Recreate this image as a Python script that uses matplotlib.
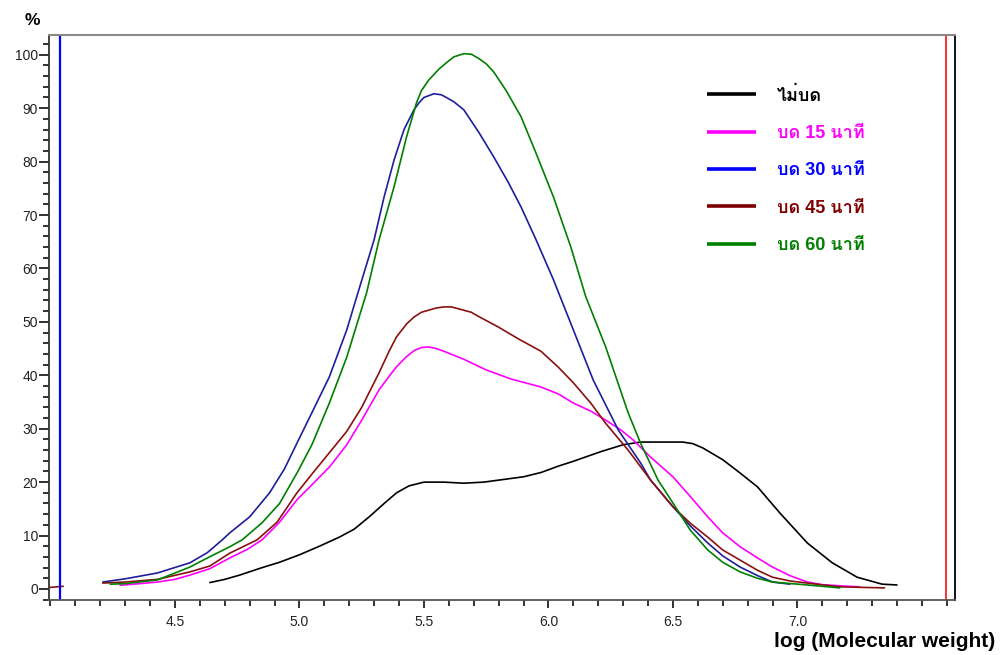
import matplotlib
matplotlib.use("Agg")
import matplotlib.pyplot as plt
from matplotlib.lines import Line2D
from matplotlib.ticker import MultipleLocator, FixedLocator

# ---------------- data ----------------
x_black = [4.64, 4.70, 4.76, 4.85, 4.92, 5.00, 5.08, 5.16, 5.22, 5.28, 5.34, 5.39, 5.44, 5.50,
           5.58, 5.66, 5.74, 5.82, 5.90, 5.97, 6.04, 6.10, 6.21, 6.30, 6.37, 6.45, 6.54, 6.58,
           6.62, 6.70, 6.77, 6.84, 6.93, 7.04, 7.14, 7.24, 7.34, 7.40]
y_black = [1.2, 1.8, 2.6, 4.0, 5.0, 6.4, 8.0, 9.7, 11.2, 13.5, 16.0, 18.0, 19.3, 20.0,
           20.0, 19.8, 20.0, 20.5, 21.0, 21.8, 23.0, 23.9, 25.7, 27.0, 27.5, 27.5, 27.5, 27.2,
           26.4, 24.2, 21.7, 19.1, 14.2, 8.6, 4.9, 2.2, 0.9, 0.75]

x_15 = [4.28, 4.36, 4.43, 4.50, 4.56, 4.64, 4.72, 4.79, 4.85, 4.92, 4.99, 5.05, 5.12, 5.19,
        5.25, 5.32, 5.36, 5.39, 5.43, 5.46, 5.49, 5.52, 5.55, 5.58, 5.66, 5.75, 5.85, 5.97,
        6.04, 6.10, 6.17, 6.23, 6.29, 6.34, 6.41, 6.50, 6.57, 6.64, 6.70, 6.77, 6.84, 6.90,
        6.97, 7.04, 7.10, 7.17, 7.25]
y_15 = [0.7, 1.0, 1.3, 1.8, 2.6, 3.8, 5.8, 7.4, 9.2, 12.5, 16.7, 19.5, 22.8, 27.0,
        31.6, 37.3, 39.8, 41.6, 43.5, 44.6, 45.2, 45.3, 45.0, 44.5, 43.0, 41.0, 39.3, 37.8,
        36.5, 34.8, 33.3, 31.6, 29.8, 27.9, 24.7, 21.0, 17.3, 13.5, 10.5, 7.9, 5.8, 4.1,
        2.5, 1.3, 0.8, 0.6, 0.4]

x_30 = [4.21, 4.30, 4.43, 4.56, 4.63, 4.69, 4.72, 4.80, 4.88, 4.94, 4.99, 5.05, 5.12, 5.19,
        5.23, 5.30, 5.34, 5.38, 5.42, 5.46, 5.48, 5.50, 5.54, 5.57, 5.59, 5.62, 5.66, 5.72,
        5.78, 5.84, 5.89, 5.95, 6.02, 6.10, 6.18, 6.28, 6.37, 6.41, 6.50, 6.57, 6.64, 6.70,
        6.77, 6.84, 6.90, 6.97]
y_30 = [1.3, 1.9, 3.0, 4.9, 6.8, 9.2, 10.5, 13.5, 18.0, 22.5, 27.3, 33.0, 39.7, 48.5,
        54.7, 65.4, 73.4, 80.3, 86.0, 89.7, 91.0, 92.0, 92.7, 92.5, 92.0, 91.2, 89.7, 85.5,
        80.9, 76.0, 71.5, 65.4, 57.9, 48.5, 39.1, 29.8, 23.6, 20.4, 15.4, 11.8, 8.6, 6.2,
        4.1, 2.5, 1.3, 0.9]

x_45 = [4.21, 4.30, 4.43, 4.56, 4.64, 4.72, 4.83, 4.91, 4.99, 5.05, 5.12, 5.19, 5.25, 5.32,
        5.36, 5.39, 5.43, 5.46, 5.49, 5.52, 5.55, 5.58, 5.61, 5.65, 5.69, 5.72, 5.80, 5.88,
        5.97, 6.04, 6.10, 6.17, 6.23, 6.32, 6.41, 6.50, 6.57, 6.64, 6.70, 6.77, 6.84, 6.90,
        6.97, 7.04, 7.17, 7.35]
y_45 = [1.1, 1.3, 1.8, 3.2, 4.3, 6.7, 9.2, 12.5, 18.0, 21.5, 25.5, 29.5, 34.0, 40.5,
        44.5, 47.2, 49.6, 50.9, 51.8, 52.2, 52.6, 52.8, 52.8, 52.3, 51.8, 51.0, 49.0, 46.8,
        44.5, 41.5, 38.6, 34.8, 31.0, 26.0, 20.4, 15.4, 12.3, 9.7, 7.3, 5.4, 3.5, 2.2,
        1.5, 1.1, 0.4, 0.2]

x_60 = [4.24, 4.30, 4.43, 4.56, 4.63, 4.72, 4.77, 4.85, 4.92, 4.99, 5.05, 5.12, 5.19, 5.27,
        5.32, 5.38, 5.43, 5.47, 5.49, 5.52, 5.56, 5.59, 5.62, 5.66, 5.69, 5.72, 5.75, 5.78,
        5.83, 5.89, 5.95, 6.02, 6.09, 6.15, 6.23, 6.32, 6.37, 6.44, 6.50, 6.57, 6.64, 6.70,
        6.77, 6.84, 6.90, 7.04, 7.17]
y_60 = [0.9, 1.0, 1.7, 4.1, 5.8, 7.9, 9.2, 12.4, 16.0, 21.7, 27.0, 34.8, 43.4, 55.5,
        65.4, 75.3, 84.6, 91.0, 93.3, 95.3, 97.3, 98.5, 99.6, 100.2, 100.1, 99.3, 98.3, 96.8,
        93.3, 88.4, 81.6, 73.4, 64.0, 54.7, 45.3, 33.0, 27.3, 20.4, 16.1, 11.0, 7.3, 5.0,
        3.2, 2.0, 1.3, 0.75, 0.2]

x_stub = [4.00, 4.05]
y_stub = [0.3, 0.5]

marker_left = 4.04
marker_right = 7.596

labels = ["ไม่บด", "บด 15 นาที", "บด 30 นาที", "บด 45 นาที", "บด 60 นาที"]
line_colors = ["#000000", "#FF00FF", "#1E1E9C", "#8B1010", "#008000"]
legend_colors = ["#000000", "#FF00FF", "#0000FF", "#800000", "#008000"]

x_major = [4.5, 5.0, 5.5, 6.0, 6.5, 7.0]
x_major_labels = ["4.5", "5.0", "5.5", "6.0", "6.5", "7.0"]

# ---------------- figure ----------------
plt.rcParams['font.family'] = ['Liberation Sans', 'Loma', 'DejaVu Sans']

fig = plt.figure(figsize=(10, 6.55), dpi=100)
ax = fig.add_axes([0.049, 0.0840, 0.906, 0.8626])

series = [(x_black, y_black), (x_15, y_15), (x_30, y_30), (x_45, y_45), (x_60, y_60)]
for (xs, ys), c in zip(series, line_colors):
    ax.plot(xs, ys, color=c, lw=1.2, solid_joinstyle='round', solid_capstyle='round')
ax.plot(x_stub, y_stub, color="#8B1010", lw=1.2)

ax.axvline(marker_left, color="#0000FF", lw=1.6)
ax.axvline(marker_right, color="#FF3030", lw=1.4)

ax.set_xlim(3.994, 7.633)
ax.set_ylim(-2.06, 103.7)

ax.xaxis.set_major_locator(FixedLocator(x_major))
ax.set_xticklabels(x_major_labels)
ax.xaxis.set_minor_locator(MultipleLocator(0.1))
ax.yaxis.set_major_locator(MultipleLocator(10))
ax.yaxis.set_minor_locator(MultipleLocator(2))

ax.tick_params(axis='x', which='major', direction='out', length=6, width=1.3,
               labelsize=10, pad=5, colors='#222222')
ax.tick_params(axis='x', which='minor', direction='out', length=4, width=1.3, colors='#222222')
ax.tick_params(axis='y', which='major', direction='out', length=7, width=1.3,
               labelsize=10, pad=1, colors='#222222')
ax.tick_params(axis='y', which='minor', direction='out', length=4, width=1.3, colors='#222222')

ax.spines['top'].set_color('#8a8a8a')
ax.spines['top'].set_linewidth(1.5)
ax.spines['left'].set_color('#333333')
ax.spines['bottom'].set_color('#555555')
ax.spines['left'].set_linewidth(1.3)
ax.spines['bottom'].set_linewidth(1.3)
ax.spines['right'].set_color('#000000')
ax.spines['right'].set_linewidth(1.3)

handles = [Line2D([0], [0], color=c, lw=2.6, solid_capstyle='butt') for c in legend_colors]
leg = ax.legend(handles, labels, loc='upper left', bbox_to_anchor=(0.716, 0.925),
                frameon=False, handlelength=2.75, handletextpad=1.15, labelspacing=1.13,
                prop={'size': 13, 'weight': 'bold'}, borderpad=0)
for t, c in zip(leg.get_texts(), legend_colors):
    t.set_color(c)

fig.text(0.025, 0.968, "%", fontsize=12.5, fontweight='bold', ha='left', va='center')
fig.text(0.995, 0.02, "log (Molecular weight)", fontsize=15, fontweight='bold',
         ha='right', va='center')

fig.savefig("out.png", dpi=100)
